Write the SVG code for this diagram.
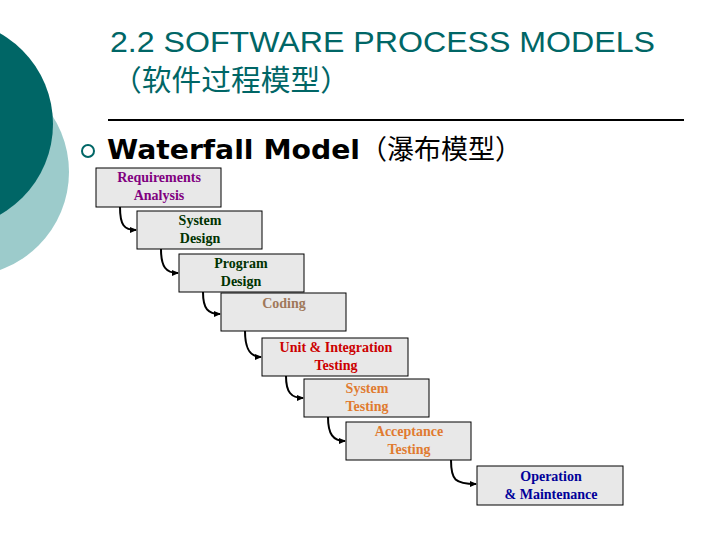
<svg xmlns="http://www.w3.org/2000/svg" width="720" height="540" viewBox="0 0 720 540">
<style>
.b{fill:#e8e8e8;stroke:#000;stroke-width:1}
.t{font-family:"Liberation Serif",serif;font-weight:bold;font-size:14px;text-anchor:middle}
.c{fill:none;stroke:#000;stroke-width:2}
</style>
<defs><marker id="a" markerWidth="8" markerHeight="8" refX="6" refY="4" orient="auto" markerUnits="userSpaceOnUse"><path d="M0,1 L7,4 L0,7 z" fill="#000"/></marker></defs>
<rect width="720" height="540" fill="#fff"/>
<circle cx="-35" cy="172" r="104" fill="#9ccbcb"/>
<circle cx="-51" cy="124" r="104" fill="#006666"/>
<text x="110" y="52" font-family="Liberation Sans,sans-serif" font-size="29" fill="#006666" textLength="545" lengthAdjust="spacingAndGlyphs">2.2 SOFTWARE PROCESS MODELS</text>
<text x="112" y="91" font-family="Liberation Sans,'Noto Sans CJK SC',sans-serif" font-size="29" fill="#006666" textLength="238" lengthAdjust="spacingAndGlyphs">（软件过程模型）</text>
<line x1="108" y1="120" x2="684" y2="120" stroke="#000" stroke-width="2"/>
<circle cx="88" cy="151" r="6" fill="none" stroke="#006666" stroke-width="2"/>
<text x="107" y="159" font-family="'DejaVu Sans','Noto Sans CJK SC',sans-serif" font-weight="bold" font-size="27" fill="#000" textLength="253" lengthAdjust="spacingAndGlyphs">Waterfall Model</text>
<text x="360" y="159" font-family="'Noto Sans CJK SC',sans-serif" font-size="27" fill="#000" textLength="162" lengthAdjust="spacingAndGlyphs">（瀑布模型）</text>
<g id="connectors">
<path class="c" marker-end="url(#a)" d="M120,207 C120,225 124,230 136,230"/>
<path class="c" marker-end="url(#a)" d="M161,249 C161,267 166,273 178,273"/>
<path class="c" marker-end="url(#a)" d="M203,292 C203,309 208,314 220,314"/>
<path class="c" marker-end="url(#a)" d="M245,331 C245,349 250,357 261,357"/>
<path class="c" marker-end="url(#a)" d="M286,376 C286,392 291,398 303,398"/>
<path class="c" marker-end="url(#a)" d="M328,417 C328,434 333,441 345,441"/>
<path class="c" marker-end="url(#a)" d="M451,460 C451,480 455,484 476,484"/>
</g>
<g id="n1"><rect class="b" x="96" y="168" width="125" height="39"/><text class="t" fill="#800080" x="159" y="182">Requirements</text><text class="t" fill="#800080" x="159" y="200">Analysis</text></g>
<g id="n2"><rect class="b" x="137" y="211" width="125" height="38"/><text class="t" fill="#003300" x="200" y="225">System</text><text class="t" fill="#003300" x="200" y="243">Design</text></g>
<g id="n3"><rect class="b" x="179" y="254" width="125" height="38"/><text class="t" fill="#003300" x="241" y="268">Program</text><text class="t" fill="#003300" x="241" y="286">Design</text></g>
<g id="n4"><rect class="b" x="221" y="293" width="125" height="38"/><text class="t" fill="#a0785a" x="284" y="308">Coding</text></g>
<g id="n5"><rect class="b" x="262" y="338" width="146" height="38"/><text class="t" fill="#cc0000" x="336" y="352">Unit &amp; Integration</text><text class="t" fill="#cc0000" x="336" y="370">Testing</text></g>
<g id="n6"><rect class="b" x="304" y="379" width="125" height="38"/><text class="t" fill="#e07b30" x="367" y="393">System</text><text class="t" fill="#e07b30" x="367" y="411">Testing</text></g>
<g id="n7"><rect class="b" x="346" y="422" width="125" height="38"/><text class="t" fill="#e07b30" x="409" y="436">Acceptance</text><text class="t" fill="#e07b30" x="409" y="454">Testing</text></g>
<g id="n8"><rect class="b" x="477" y="466" width="146" height="39"/><text class="t" fill="#000099" x="551" y="481">Operation</text><text class="t" fill="#000099" x="551" y="499">&amp; Maintenance</text></g>
</svg>
